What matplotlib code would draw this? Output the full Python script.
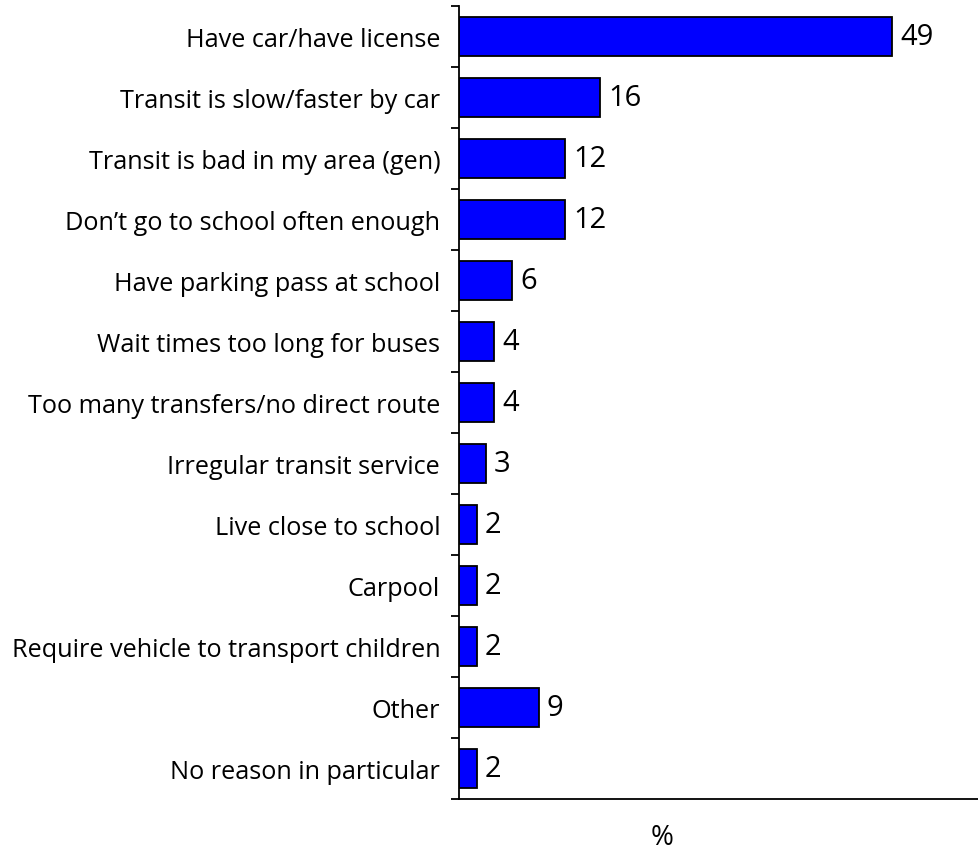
import numpy as np
import matplotlib.pyplot as plt

# categories, top to bottom
reasons = ['Have car/have license', 'Transit is slow/faster by car',
           'Transit is bad in my area (gen)', 'Don\u2019t go to school often enough',
           'Have parking pass at school', 'Wait times too long for buses',
           'Too many transfers/no direct route', 'Irregular transit service',
           'Live close to school', 'Carpool',
           'Require vehicle to transport children', 'Other',
           'No reason in particular']
pct = [49, 16, 12, 12, 6, 4, 4, 3, 2, 2, 2, 9, 2]

plt.rcParams['font.family'] = ['Open Sans', 'DejaVu Sans']

fig = plt.figure(figsize=(9.79, 8.53), dpi=100)
ax = fig.add_axes([459/979, 53/853, 1 - 459/979, (800-7)/853])

n = len(reasons)
ypos = np.arange(n)
ax.barh(ypos, pct, height=0.64, color='#0000ff', edgecolor='black', linewidth=1.3)
for y, v in zip(ypos, pct):
    ax.text(v + 0.9, y, str(v), va='center', ha='left', fontsize=21)

ax.set_ylim(n - 0.5, -0.5)
ax.set_xlim(0, 58.8)
ax.set_yticks(ypos)
ax.set_yticklabels(reasons, fontsize=18.2)
ax.tick_params(axis='y', which='major', length=0, pad=13.5)
ax.set_yticks(np.arange(n + 1) - 0.5, minor=True)
ax.tick_params(axis='y', which='minor', length=6, width=1.3, direction='out')
ax.set_xticks([])
for s in ['top', 'right']:
    ax.spines[s].set_visible(False)
ax.spines['left'].set_linewidth(1.3)
ax.spines['bottom'].set_linewidth(1.3)
ax.set_xlabel('%', fontsize=20)
ax.xaxis.set_label_coords((662-459)/(979-459), -(838-800)/793)
ax.xaxis.label.set_va('center')

fig.savefig('out.png', dpi=100)
